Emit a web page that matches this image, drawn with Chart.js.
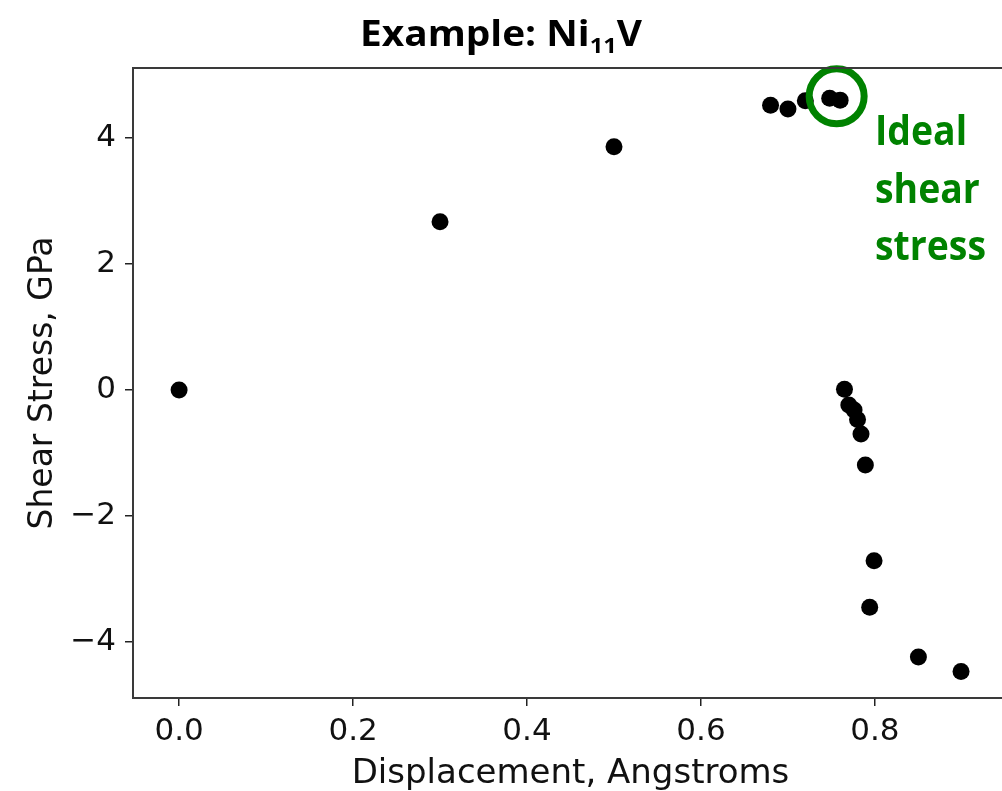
<html>
<head>
  <script src="https://cdn.jsdelivr.net/npm/chart.js@4.4.1/dist/chart.umd.min.js"></script>
  <style>
    body { margin: 0; overflow: hidden; background: #fff; }
    #shearChart { display: block; }
  </style>
</head>
<body>
  <canvas id="shearChart" width="1008" height="791"></canvas>

<script>
  // Displacement (Angstroms) and shear stress (GPa).
  const displacement = [0, 0.3, 0.5, 0.68, 0.70, 0.72, 0.748, 0.76,
    0.765, 0.770, 0.776, 0.780, 0.784, 0.789, 0.799, 0.794, 0.85, 0.899];
  const shearStress = [0, 2.67, 3.86, 4.52, 4.46, 4.59, 4.63, 4.60,
    0.01, -0.24, -0.32, -0.47, -0.70, -1.19, -2.71, -3.45, -4.24, -4.47];

  // Marked point (ideal shear stress).
  const idealPoint = [{ x: 0.756, y: 4.66 }];

  const xTicks = [0, 0.2, 0.4, 0.6, 0.8];
  const yTicks = [-4, -2, 0, 2, 4];

  const titleText = ['Example: Ni', '11', 'V'];
  const noteLines = ['Ideal', 'shear', 'stress'];
  const green = '#008200';

  const points = displacement.map((x, i) => ({ x, y: shearStress[i] }));

  // Slide title and green note, drawn on top of the chart.
  const textPlugin = {
    id: 'slideText',
    afterDraw(chart) {
      const ctx = chart.ctx;
      const area = chart.chartArea;

      // frame around the plot area (right side falls outside the picture)
      ctx.save();
      ctx.strokeStyle = '#3a3a3a';
      ctx.lineWidth = 2;
      ctx.beginPath();
      ctx.moveTo(area.right + 2, area.top);
      ctx.lineTo(area.left, area.top);
      ctx.lineTo(area.left, area.bottom);
      ctx.lineTo(area.right + 2, area.bottom);
      ctx.stroke();
      ctx.restore();

      // title with subscript
      ctx.save();
      const big = 'bold 36px "Open Sans"';
      const small = 'bold 22px "Open Sans"';
      ctx.font = big;
      const w1 = ctx.measureText(titleText[0]).width;
      const w3 = ctx.measureText(titleText[2]).width;
      ctx.font = small;
      const w2 = ctx.measureText(titleText[1]).width;
      const sx = 282 / (w1 + w2 + w3);
      ctx.translate(360, 46);
      ctx.scale(sx, 1);
      ctx.fillStyle = '#000';
      ctx.textAlign = 'left';
      ctx.textBaseline = 'alphabetic';
      ctx.font = big;
      ctx.fillText(titleText[0], 0, 0);
      ctx.font = small;
      ctx.fillText(titleText[1], w1, 7);
      ctx.font = big;
      ctx.fillText(titleText[2], w1 + w2, 0);
      ctx.restore();

      // green note
      ctx.save();
      ctx.font = 'bold 41px "Open Sans"';
      const nx = 111 / ctx.measureText(noteLines[2]).width;
      ctx.fillStyle = green;
      ctx.textAlign = 'left';
      ctx.textBaseline = 'alphabetic';
      [145, 203, 260].forEach((y, i) => {
        ctx.save();
        ctx.translate(875, y);
        ctx.scale(nx, 1);
        ctx.fillText(noteLines[i], 0, 0);
        ctx.restore();
      });
      ctx.restore();
    }
  };

  const tickFont = { family: '"DejaVu Sans"', size: 31, lineHeight: 1 };

  new Chart(document.getElementById('shearChart'), {
    type: 'scatter',
    data: {
      datasets: [{
        data: idealPoint,
        pointRadius: 27.5,
        pointBorderWidth: 7,
        borderColor: green,
        backgroundColor: 'rgba(0,0,0,0)',
        pointBackgroundColor: 'rgba(0,0,0,0)',
        pointBorderColor: green,
        clip: false,
        order: 0
      }, {
        data: points,
        pointRadius: 8.5,
        pointBorderWidth: 0,
        pointBackgroundColor: '#000',
        pointBorderColor: '#000',
        order: 1
      }]
    },
    options: {
      responsive: false,
      animation: false,
      layout: { autoPadding: false, padding: { top: 68, left: 0, right: 0, bottom: 0 } },
      plugins: {
        legend: { display: false },
        tooltip: { enabled: false },
        title: { display: false }
      },
      scales: {
        x: {
          type: 'linear',
          min: -0.053,
          max: 0.953,
          afterBuildTicks(scale) { scale.ticks = xTicks.map((v) => ({ value: v })); },
          afterFit(scale) {
            scale.height = 93;
            scale.paddingLeft = 0;
            scale.paddingRight = 0;
          },
          grid: { display: true, drawOnChartArea: false, drawTicks: true, tickLength: 8, color: '#222', lineWidth: 1.5 },
          border: { display: false },
          ticks: {
            padding: 10,
            color: '#111',
            font: tickFont,
            maxRotation: 0,
            autoSkip: false,
            callback: (v) => v.toFixed(1)
          },
          title: {
            display: true,
            text: 'Displacement, Angstroms',
            color: '#111',
            font: { family: '"DejaVu Sans"', size: 34, lineHeight: 1 },
            padding: { top: 0, bottom: 0 }
          }
        },
        y: {
          type: 'linear',
          min: -4.89,
          max: 5.11,
          afterBuildTicks(scale) { scale.ticks = yTicks.map((v) => ({ value: v })); },
          afterFit(scale) {
            scale.width = 133;
            scale.paddingTop = 0;
            scale.paddingBottom = 0;
          },
          grid: { display: true, drawOnChartArea: false, drawTicks: true, tickLength: 8, color: '#222', lineWidth: 1.5 },
          border: { display: false },
          ticks: {
            padding: 9,
            color: '#111',
            font: tickFont,
            autoSkip: false,
            callback: (v) => String(v).replace('-', '\u2212')
          },
          title: {
            display: true,
            text: 'Shear Stress, GPa',
            color: '#111',
            font: { family: '"DejaVu Sans"', size: 33, lineHeight: 1 },
            padding: { top: 27, bottom: 0 }
          }
        }
      }
    },
    plugins: [textPlugin]
  });
</script>
</body>
</html>
